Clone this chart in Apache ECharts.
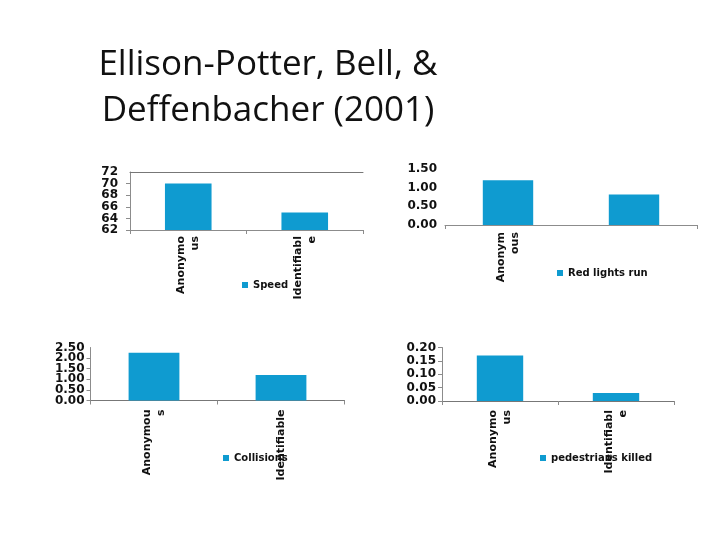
<!DOCTYPE html>
<html>
<head>
<meta charset="utf-8">
<script src="https://cdn.jsdelivr.net/npm/echarts@6/dist/echarts.min.js"></script>
<style>html,body{margin:0;padding:0;background:#fff}#c{width:720px;height:540px}</style>
</head>
<body>
<div id="c"></div>
<script>
// ---- data ----
const titleText = "Ellison-Potter, Bell, &\nDeffenbacher (2001)";

const speedCategories = ["Anonymo\nus", "Identifiabl\ne"];
const speedValues = [70, 65];
const speedTicks = [62, 64, 66, 68, 70, 72];

const redCategories = ["Anonym\nous", "Identifiable"];
const redValues = [1.2, 0.82];
const redTicks = [0, 0.5, 1.0, 1.5];

const collCategories = ["Anonymou\ns", "Identifiable"];
const collValues = [2.25, 1.2];
const collTicks = [0, 0.5, 1.0, 1.5, 2.0, 2.5];

const pedCategories = ["Anonymo\nus", "Identifiabl\ne"];
const pedValues = [0.17, 0.03];
const pedTicks = [0, 0.05, 0.10, 0.15, 0.20];

const seriesNames = ["Speed", "Red lights run", "Collisions", "pedestrians killed"];

// ---- styling ----
const BAR = '#0f9bd0';
const AXIS = '#8c8c8c';
const FONT = 'DejaVu Sans';

const grids = [
  {left: 130, top: 172, width: 233, height: 58},
  {left: 445, top: 169, width: 252, height: 56},
  {left: 90.5, top: 347.5, width: 254, height: 53},
  {left: 442, top: 347.5, width: 232, height: 53.5}
];
const yMargins = [12, 8, 6, 6];
const xMargins = [6, 7, 9, 9];
const cats = [speedCategories, redCategories, collCategories, pedCategories];
const vals = [speedValues, redValues, collValues, pedValues];
const ticks = [speedTicks, redTicks, collTicks, pedTicks];
const decimals = [0, 2, 2, 2];
const showTop = [true, false, true, true];
const showYLine = [true, false, true, true];
const labelShow = [
  () => true,
  (i) => i === 0,
  () => true,
  () => true
];
const legendPos = [
  {left: 242, top: 280},
  {left: 557, top: 268},
  {left: 223, top: 453},
  {left: 540, top: 453}
];

const xAxes = [], yAxes = [], series = [], legends = [];
for (let k = 0; k < 4; k++) {
  const t = ticks[k];
  xAxes.push({
    type: 'category', gridIndex: k, data: cats[k], position: 'bottom',
    axisLine: {show: true, lineStyle: {color: AXIS, width: 1}},
    axisTick: {show: true, length: 4, lineStyle: {color: AXIS}},
    axisLabel: {
      rotate: 90, margin: xMargins[k], interval: labelShow[k],
      fontFamily: FONT, fontWeight: 'bold', fontSize: 11, color: '#111', lineHeight: 14
    }
  });
  if (showTop[k]) {
    xAxes.push({
      type: 'category', gridIndex: k, data: cats[k], position: 'top',
      axisLine: {show: true, lineStyle: {color: '#777', width: 1}},
      axisTick: {show: false}, axisLabel: {show: false}
    });
  }
  // two overlaid value axes: one labels even ticks, the other odd ticks
  // (so tightly packed labels are not dropped by the min/max overlap rule)
  const last = t.length - 1;
  for (let parity = 0; parity < 2; parity++) {
    const main = parity === 0 && showYLine[k];
    yAxes.push({
      type: 'value', gridIndex: k, position: 'left', offset: 0,
      min: t[0], max: t[last], interval: t[1] - t[0],
      axisLine: {show: main, lineStyle: {color: AXIS, width: 1}},
      axisTick: {show: main, length: 4, lineStyle: {color: AXIS}},
      splitLine: {show: false},
      axisLabel: {
        margin: yMargins[k], fontFamily: FONT, fontWeight: 'bold', fontSize: 12, color: '#111',
        showMinLabel: parity === 0, showMaxLabel: (last % 2) === parity, hideOverlap: false,
        formatter: (v) => {
          const idx = Math.round((v - t[0]) / (t[1] - t[0]));
          return (idx % 2) === parity ? v.toFixed(decimals[k]) : '';
        }
      }
    });
  }
}
let xi = 0;
for (let k = 0; k < 4; k++) {
  series.push({
    name: seriesNames[k], type: 'bar', xAxisIndex: xi, yAxisIndex: 2 * k,
    data: vals[k], barWidth: '40%', itemStyle: {color: BAR}, silent: true
  });
  xi += showTop[k] ? 2 : 1;
  legends.push({
    data: [seriesNames[k]], left: legendPos[k].left, top: legendPos[k].top,
    padding: 0, itemWidth: 6, itemHeight: 6, icon: 'rect',
    textStyle: {fontFamily: FONT, fontWeight: 'bold', fontSize: 10, color: '#111'}
  });
}

const chart = echarts.init(document.getElementById('c'), null, {renderer: 'canvas'});
chart.setOption({
  animation: false,
  backgroundColor: '#ffffff',
  title: {
    text: titleText, left: 263, top: 37, textAlign: 'center',
    textStyle: {fontFamily: 'Open Sans', fontWeight: 'normal', fontSize: 35, lineHeight: 46, color: '#111'}
  },
  legend: legends,
  grid: grids,
  xAxis: xAxes,
  yAxis: yAxes,
  series: series
});
</script>
</body>
</html>
